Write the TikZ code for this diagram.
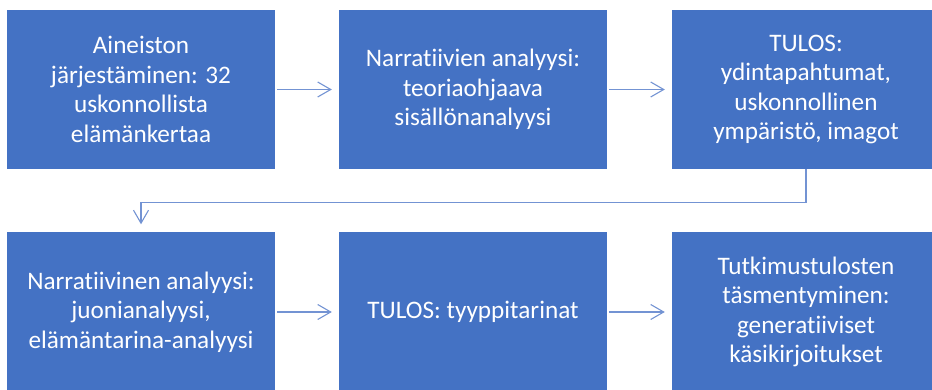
\documentclass[tikz,border=0pt]{standalone}
\usepackage{fontspec}
\setmainfont{Carlito}[Ligatures=NoCommon]
\usetikzlibrary{arrows.meta}
\definecolor{boxblue}{HTML}{4472C4}
\definecolor{linkblue}{HTML}{7393D3}

\begin{document}
\begin{tikzpicture}[
    x=1pt, y=-1pt,
    box/.style={rectangle, fill=boxblue, text=white, minimum width=268pt, minimum height=159pt, align=center, font=\fontsize{25.2}{29.5}\selectfont},
    link/.style={-{Straight Barb[length=13pt, width=15pt]}, draw=linkblue, line width=1.1pt}
]
    \clip (0,0) rectangle (932,390);
    \node[box] (order) at (141,89.5) {Aineiston\\järjestäminen: 32\\uskonnollista\\elämänkertaa};
    \node[box] (content) at (473,89.5) {Narratiivien analyysi:\\teoriaohjaava\\sisällönanalyysi};
    \node[box] (result) at (806,89.5) {TULOS:\\ydintapahtumat,\\uskonnollinen\\ympäristö, imagot};
    \node[box] (plot) at (141,312) {Narratiivinen analyysi:\\juonianalyysi,\\elämäntarina-analyysi};
    \node[box] (types) at (473,312) {TULOS: tyyppitarinat};
    \node[box] (scripts) at (806,312) {Tutkimustulosten\\täsmentyminen:\\generatiiviset\\käsikirjoitukset};

    \draw[link, shorten <=2pt, shorten >=7pt] (order) -- (content);
    \draw[link, shorten <=2pt, shorten >=7pt] (content) -- (result);
    \draw[link, shorten >=8pt] (result.south) -- ++(0,33) -| (plot.north);
    \draw[link, shorten <=2pt, shorten >=7pt] (plot) -- (types);
    \draw[link, shorten <=2pt, shorten >=7pt] (types) -- (scripts);
\end{tikzpicture}
\end{document}
